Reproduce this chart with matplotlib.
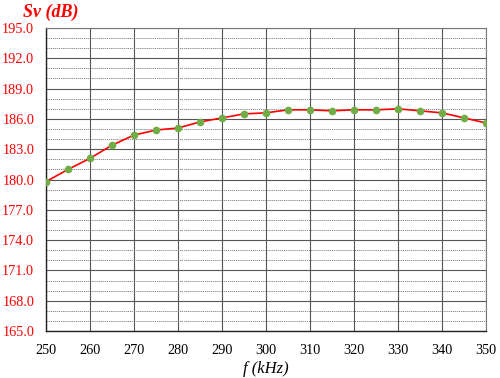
import numpy as np
import matplotlib
matplotlib.use("Agg")
import matplotlib.pyplot as plt

# frequency (kHz) and volume backscattering strength (dB)
freq = [250, 255, 260, 265, 270, 275, 280, 285, 290, 295, 300,
        305, 310, 315, 320, 325, 330, 335, 340, 345, 350]
sv = [179.8, 181.0, 182.1, 183.4, 184.4, 184.9, 185.1, 185.7, 186.1, 186.5, 186.6,
      186.9, 186.9, 186.8, 186.9, 186.9, 187.0, 186.8, 186.6, 186.1, 185.6]

x_ticks = list(range(250, 351, 10))
y_ticks = [165.0, 168.0, 171.0, 174.0, 177.0, 180.0, 183.0, 186.0, 189.0, 192.0, 195.0]

plt.rcParams['font.family'] = ['Liberation Serif', 'DejaVu Serif']

fig = plt.figure(figsize=(5, 3.78), dpi=100)
ax = fig.add_axes([0.092, 0.124, 0.88, 0.802])

ax.set_xlim(250, 350)
ax.set_ylim(165, 195)
ax.set_xticks(x_ticks)
ax.set_yticks(y_ticks)
ax.set_yticks(np.arange(165, 196, 1), minor=True)
ax.set_yticklabels(["%.1f" % v for v in y_ticks], color='red', fontsize=10.3)
ax.set_xticklabels([str(v) for v in x_ticks], color='black', fontsize=10.3)
ax.tick_params(length=0, which='both')
ax.tick_params(axis='y', pad=8.5)
ax.tick_params(axis='x', pad=9)

ax.grid(True, which='major', axis='both', color='#555555', linewidth=0.8)
ax.grid(True, which='minor', axis='y', color='#777777', linewidth=0.6, linestyle=(0, (1.5, 1)))
ax.set_axisbelow(True)

for s in ['top', 'right']:
    ax.spines[s].set_color('#777777')
for s in ['left', 'bottom']:
    ax.spines[s].set_color('#222222')
    ax.spines[s].set_linewidth(1.0)

ax.plot(freq, sv, color='red', linewidth=1.2, marker='o', markersize=4.5,
        markerfacecolor='#70ad47', markeredgecolor='#70ad47', zorder=3)

fig.text(0.046, 0.968, "Sv (dB)", color='red', fontsize=13, fontweight='bold',
         fontstyle='italic', ha='left', va='center')
ax.set_xlabel("f (kHz)", fontstyle='italic', fontsize=12, labelpad=3)

fig.savefig("out.png", dpi=100)
